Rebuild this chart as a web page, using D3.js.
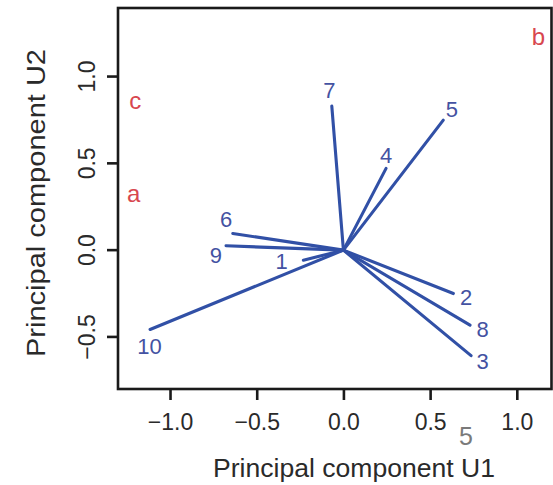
<!DOCTYPE html>
<html>
<head>
<meta charset="utf-8">
<script src="https://cdn.jsdelivr.net/npm/d3@7"></script>
<style>
  body { margin: 0; background: #fff; }
  svg { display: block; }
  text { font-family: 'Liberation Sans', Arial, Helvetica, sans-serif; }
</style>
</head>
<body>
<div id="chart"></div>
<script>
// loadings (end points of each vector)
let ids = ['1', '2', '3', '4', '5', '6', '7', '8', '9', '10']
let u1 = [-0.231, 0.634, 0.736, 0.246, 0.576, -0.638, -0.067, 0.730, -0.677, -1.115]
let u2 = [-0.058, -0.250, -0.608, 0.471, 0.749, 0.096, 0.830, -0.432, 0.025, -0.457]
// where the number labels sit
let labelU1 = [-0.356, 0.707, 0.803, 0.246, 0.625, -0.677, -0.081, 0.803, -0.736, -1.119]
let labelU2 = [-0.067, -0.273, -0.644, 0.548, 0.811, 0.179, 0.918, -0.457, -0.029, -0.557]

// red panel letters
let letters = ['c', 'a', 'b']
let letterU1 = [-1.201, -1.210, 1.124]
let letterU2 = [0.861, 0.329, 1.228]

let xTicks = [-1.0, -0.5, 0.0, 0.5, 1.0]
let yTicks = [-0.5, 0.0, 0.5, 1.0]

let width = 553
let height = 485
let margin = { top: 8, left: 118, right: 1.5, bottom: 96 }

let svg = d3.select('#chart')
  .append('svg')
  .attr('width', width)
  .attr('height', height)

let xScale = d3.scaleLinear()
  .domain([-1.3, 1.2])
  .range([margin.left, width - margin.right])

let yScale = d3.scaleLinear()
  .domain([-0.8, 1.395])
  .range([height - margin.bottom, margin.top])

let fmt = d3.format('.1f')

let vectors = ids.map((id, i) => ({
  id: id, x: u1[i], y: u2[i], lx: labelU1[i], ly: labelU2[i]
}))

// vectors from origin
svg.selectAll('.vec')
  .data(vectors)
  .enter()
  .append('line')
  .attr('class', 'vec')
  .attr('x1', xScale(0))
  .attr('y1', yScale(0))
  .attr('x2', d => xScale(d.x))
  .attr('y2', d => yScale(d.y))
  .attr('stroke', '#3150a6')
  .attr('stroke-width', 3.1)
  .attr('stroke-linecap', 'round')

svg.selectAll('.vec-label')
  .data(vectors)
  .enter()
  .append('text')
  .attr('class', 'vec-label')
  .attr('x', d => xScale(d.lx))
  .attr('y', d => yScale(d.ly))
  .attr('text-anchor', 'middle')
  .attr('dominant-baseline', 'central')
  .attr('font-size', 22)
  .attr('fill', '#4452a2')
  .text(d => d.id)

// red letters
svg.selectAll('.letter')
  .data(letters)
  .enter()
  .append('text')
  .attr('class', 'letter')
  .attr('x', (d, i) => xScale(letterU1[i]))
  .attr('y', (d, i) => yScale(letterU2[i]))
  .attr('text-anchor', 'middle')
  .attr('dominant-baseline', 'central')
  .attr('font-size', 24)
  .attr('fill', '#d8474f')
  .text(d => d)

// box
svg.append('rect')
  .attr('x', xScale.range()[0])
  .attr('y', yScale.range()[1])
  .attr('width', xScale.range()[1] - xScale.range()[0])
  .attr('height', yScale.range()[0] - yScale.range()[1])
  .attr('fill', 'none')
  .attr('stroke', '#1a1a1a')
  .attr('stroke-width', 2.6)

// x axis
let xAxis = d3.axisBottom(xScale)
  .tickValues(xTicks)
  .tickFormat(fmt)
  .tickSize(11)
  .tickPadding(14)

let xg = svg.append('g')
  .attr('transform', `translate(0,${yScale.range()[0]})`)
  .call(xAxis)
xg.select('.domain').remove()
xg.selectAll('line').attr('stroke', '#1a1a1a').attr('stroke-width', 2.6)
xg.selectAll('text')
  .attr('font-size', 23)
  .attr('font-family', "'Liberation Sans', Arial, sans-serif")
  .attr('fill', '#2a2a2a')

// y axis
let yAxis = d3.axisLeft(yScale)
  .tickValues(yTicks)
  .tickFormat(fmt)
  .tickSize(11)
  .tickPadding(0)

let yg = svg.append('g')
  .attr('transform', `translate(${xScale.range()[0]},0)`)
  .call(yAxis)
yg.select('.domain').remove()
yg.selectAll('line').attr('stroke', '#1a1a1a').attr('stroke-width', 2.6)
yg.selectAll('text')
  .attr('x', null)
  .attr('dy', null)
  .attr('text-anchor', 'middle')
  .attr('dominant-baseline', 'central')
  .attr('transform', d => `translate(-31,${yScale(d)}) rotate(-90)`)
  .attr('y', null)
  .attr('font-size', 23)
  .attr('font-family', "'Liberation Sans', Arial, sans-serif")
  .attr('fill', '#2a2a2a')
yg.selectAll('.tick').attr('transform', null)
yg.selectAll('.tick line')
  .attr('y1', d => yScale(d))
  .attr('y2', d => yScale(d))

// axis titles
svg.append('text')
  .attr('x', 354)
  .attr('y', 477)
  .attr('text-anchor', 'middle')
  .attr('font-size', 26)
  .attr('fill', '#2a2a2a')
  .attr('textLength', 282)
  .attr('lengthAdjust', 'spacingAndGlyphs')
  .text('Principal component U1')

svg.append('text')
  .attr('transform', 'translate(45,203) rotate(-90)')
  .attr('text-anchor', 'middle')
  .attr('font-size', 26)
  .attr('fill', '#2a2a2a')
  .attr('textLength', 308)
  .attr('lengthAdjust', 'spacingAndGlyphs')
  .text('Principal component U2')

// stray grey 5 below the axis
svg.append('text')
  .attr('x', 466)
  .attr('y', 445)
  .attr('text-anchor', 'middle')
  .attr('font-size', 25)
  .attr('font-family', "'Noto Sans', sans-serif")
  .attr('fill', '#7a7a7a')
  .text('5')
</script>
</body>
</html>
